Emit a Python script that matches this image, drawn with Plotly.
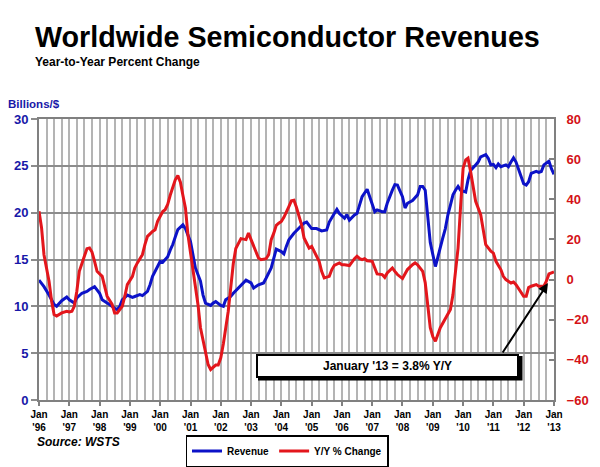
import plotly.graph_objects as go

# ---------------- data ----------------
rev_dates = ["1996-01","1996-03","1996-05","1996-07","1996-08","1996-10","1996-12",
             "1997-01","1997-03","1997-04","1997-06","1997-08","1997-09","1997-11",
             "1998-01","1998-02","1998-04","1998-05","1998-07","1998-08","1998-09","1998-10","1998-12",
             "1999-02","1999-03","1999-05","1999-06","1999-08","1999-09","1999-10","1999-12",
             "2000-01","2000-02","2000-04","2000-05","2000-06","2000-07","2000-08","2000-10","2000-11",
             "2001-01","2001-02","2001-03","2001-05","2001-06","2001-07","2001-09","2001-10","2001-11",
             "2002-01","2002-02","2002-03","2002-05","2002-06","2002-08","2002-10","2002-11",
             "2003-01","2003-02","2003-04","2003-06","2003-07","2003-09","2003-10","2003-11",
             "2004-01","2004-02","2004-03","2004-04","2004-06","2004-08","2004-10","2004-11",
             "2005-01","2005-03","2005-04","2005-05","2005-07","2005-08","2005-10","2005-11","2005-12",
             "2006-02","2006-03","2006-04","2006-06","2006-07","2006-08","2006-09","2006-11","2006-12",
             "2007-01","2007-02","2007-03","2007-05","2007-06","2007-07","2007-09","2007-10","2007-11",
             "2008-01","2008-02","2008-03","2008-05","2008-07","2008-08","2008-09","2008-10","2008-11","2008-12",
             "2009-02","2009-03","2009-05","2009-06","2009-07","2009-08","2009-09","2009-10","2009-11","2009-12",
             "2010-02","2010-03","2010-04","2010-06","2010-07","2010-08","2010-10","2010-11","2010-12",
             "2011-01","2011-02","2011-03","2011-04","2011-06","2011-07","2011-08","2011-09","2011-10","2011-12",
             "2012-01","2012-02","2012-03","2012-04","2012-06","2012-07","2012-08","2012-09","2012-11","2012-12",
             "2013-01"]
revenue = [12.8,12.1,11.2,10.2,10.0,10.6,11.0,
           10.7,10.35,10.9,11.4,11.6,11.8,12.1,
           11.4,10.7,10.35,10.2,9.8,9.65,10.0,10.7,11.2,
           10.95,11.05,11.25,11.15,11.6,12.3,13.2,14.25,
           14.8,14.7,15.3,16.0,16.6,17.4,18.2,18.7,18.3,
           16.9,15.5,14.1,12.7,11.2,10.35,10.1,10.35,10.5,
           10.1,10.0,10.7,11.05,11.4,11.95,12.5,12.8,
           12.5,11.95,12.3,12.5,13.0,14.1,15.1,16.1,
           15.85,15.6,16.4,17.1,17.8,18.3,18.9,19.0,
           18.3,18.3,18.2,18.05,18.15,19.0,19.9,20.35,19.9,
           19.4,19.8,19.2,19.75,19.9,20.8,21.7,22.5,21.7,
           21.0,20.1,20.3,20.1,20.1,21.0,22.4,23.0,22.95,
           21.7,20.5,21.0,21.3,21.9,22.8,22.8,22.4,19.75,16.8,
           14.25,15.3,17.3,18.3,19.75,20.8,21.9,22.4,22.8,22.4,
           22.2,23.5,24.5,25.1,25.4,25.96,26.2,25.8,25.1,
           25.15,24.8,25.2,24.9,25.1,24.9,25.4,25.85,25.4,24.0,
           23.1,22.95,23.3,24.2,24.4,24.3,24.4,25.1,25.5,24.7,
           24.1]

yoy_dates = ["1996-01","1996-02","1996-03","1996-05","1996-06","1996-07","1996-08","1996-10","1996-12",
             "1997-01","1997-02","1997-03","1997-04","1997-05","1997-07","1997-08","1997-09","1997-10","1997-11","1997-12",
             "1998-02","1998-03","1998-04","1998-06","1998-07","1998-08","1998-10","1998-11","1998-12",
             "1999-02","1999-03","1999-04","1999-06","1999-07","1999-08","1999-10","1999-11","1999-12",
             "2000-02","2000-03","2000-04","2000-05","2000-06","2000-07","2000-08","2000-09","2000-10","2000-11","2000-12",
             "2001-01","2001-02","2001-03","2001-04","2001-05","2001-07","2001-08","2001-09","2001-11","2001-12",
             "2002-01","2002-02","2002-03","2002-04","2002-05","2002-06","2002-07","2002-08","2002-09","2002-11","2002-12",
             "2003-01","2003-03","2003-04","2003-05","2003-07","2003-08","2003-09","2003-10","2003-11","2003-12",
             "2004-01","2004-02","2004-03","2004-04","2004-05","2004-06","2004-07","2004-08","2004-09","2004-10","2004-12",
             "2005-01","2005-02","2005-04","2005-05","2005-06","2005-08","2005-09","2005-10","2005-12",
             "2006-01","2006-02","2006-04","2006-05","2006-06","2006-07","2006-08","2006-09","2006-10","2006-11",
             "2007-01","2007-02","2007-03","2007-05","2007-06","2007-07","2007-09","2007-10","2007-11",
             "2008-01","2008-02","2008-03","2008-05","2008-06","2008-07","2008-09","2008-10","2008-11","2008-12",
             "2009-01","2009-02","2009-04","2009-06","2009-08","2009-09","2009-10","2009-11","2009-12",
             "2010-01","2010-02","2010-03","2010-04","2010-05","2010-06","2010-08","2010-09","2010-10","2010-12",
             "2011-01","2011-02","2011-04","2011-05","2011-06","2011-08","2011-09","2011-10","2011-12",
             "2012-01","2012-02","2012-03","2012-04","2012-06","2012-07","2012-09","2012-10","2012-11",
             "2013-01"]
yoy_change = [34,25.7,12.4,-0.8,-10.8,-17.4,-18.2,-16.6,-15.8,
              -16.1,-15.8,-13.3,-5.8,4.1,11.6,15.4,15.7,13.7,9.1,4.1,
              1.6,-3.3,-8.3,-12.4,-16.6,-16.6,-13.3,-8.3,-2.5,
              1.6,5.8,8.3,12.4,17.4,21.5,24.0,24.8,29.0,
              33.9,34.8,37.5,42,45.5,49.7,51.8,48.5,42,35.6,22.3,
              14,4,-3,-12.4,-24,-35.6,-42.3,-44.8,-42.6,-42.6,
              -39,-32,-25,-15.8,-4,8,15.5,18.2,20.4,19.9,23.2,
              19.9,14.1,10.7,9.9,10.4,12.4,19.9,23,27,28.1,
              29.0,31,34,36.4,39.2,39.5,36,32,27.3,20.7,15.7,
              16.5,14.1,9.1,4.1,0.8,1.6,5.0,7.1,8.3,
              7.4,7.4,7.0,8.8,10.4,11.6,10.5,9.9,10.4,9.4,
              9.1,5.8,2.8,2.5,1.1,3.3,5.8,4.1,2.5,
              0.5,2.5,5.0,7.4,8.3,7.4,4.1,-1.5,-14.1,-24,
              -28.5,-30.7,-24.0,-19.1,-14.9,-7.5,4.1,15.7,36,
              55.5,59.6,60.5,53.9,46.4,39.0,32.3,24.8,17.4,14.1,
              13.2,9.1,5.0,1.6,0.0,-1.7,-1.2,-2.5,-6,
              -8.3,-8.3,-4,-3.3,-2.5,-3.3,-3.3,-0.8,2.8,
              3.8]

year_ticks = ["1996-01","1997-01","1998-01","1999-01","2000-01","2001-01","2002-01","2003-01","2004-01",
              "2005-01","2006-01","2007-01","2008-01","2009-01","2010-01","2011-01","2012-01","2013-01"]
year_labels = ["Jan<br>'96","Jan<br>'97","Jan<br>'98","Jan<br>'99","Jan<br>'00","Jan<br>'01","Jan<br>'02",
               "Jan<br>'03","Jan<br>'04","Jan<br>'05","Jan<br>'06","Jan<br>'07","Jan<br>'08","Jan<br>'09",
               "Jan<br>'10","Jan<br>'11","Jan<br>'12","Jan<br>'13"]

# ---------------- layout helpers (pixel -> paper) ----------------
W, H = 600, 467
L, R, T, B = 39, 554, 119, 400
def px(x): return (x - L) / (R - L)
def py(y): return (B - y) / (B - T)

FONT = "Arial, 'Liberation Sans', sans-serif"
BLUE = "#0c12c8"
RED = "#e3161c"
BLUE_TXT = "#1818a8"
RED_TXT = "#d41216"

fig = go.Figure()
fig.add_trace(go.Scatter(x=rev_dates, y=revenue, name="Revenue", mode="lines",
                         line=dict(color=BLUE, width=3), yaxis="y"))
fig.add_trace(go.Scatter(x=yoy_dates, y=yoy_change, name="Y/Y % Change", mode="lines",
                         line=dict(color=RED, width=3), yaxis="y2"))

fig.update_layout(
    width=W, height=H,
    margin=dict(l=L, r=W - R, t=T, b=H - B, pad=0, autoexpand=False),
    paper_bgcolor="white", plot_bgcolor="white",
    font=dict(family=FONT, color="black"),
    showlegend=True,
    legend=dict(orientation="h", x=px(287), xanchor="center", y=py(435), yanchor="top",
                bordercolor="black", borderwidth=1.5, bgcolor="white",
                font=dict(size=10, weight="bold", family=FONT), itemwidth=30,
                tracegroupgap=0),
    xaxis=dict(type="date", range=["1996-01-01", "2013-01-01"], automargin=False,
               tickmode="array", tickvals=year_ticks, ticktext=year_labels,
               tickfont=dict(size=10, weight="bold", color="black"),
               ticks="outside", ticklen=4, tickcolor="#808080", tickwidth=1.5,
               showgrid=True, gridcolor="#b4b4b4", gridwidth=1.5,
               minor=dict(dtick="M3", tick0="1996-01-01", showgrid=True,
                          gridcolor="#b4b4b4", gridwidth=1.5),
               showline=True, linecolor="#808080", linewidth=2, mirror=True,
               zeroline=False),
    yaxis=dict(range=[0, 30], dtick=5, automargin=False,
               tickfont=dict(size=13, weight="bold", color=BLUE_TXT),
               ticks="outside", ticklen=6, tickcolor="#8c8c8c", tickwidth=2,
               showgrid=True, gridcolor="#8c8c8c", gridwidth=2,
               showline=True, linecolor="#808080", linewidth=2, zeroline=False),
    yaxis2=dict(range=[-60, 80], dtick=20, overlaying="y", side="right", automargin=False,
                tickfont=dict(size=13, weight="bold", color=RED_TXT),
                ticks="inside", ticklen=5, tickcolor="#808080", tickwidth=1.5,
                showgrid=False, showline=True, linecolor="#808080", linewidth=2,
                zeroline=False, ticklabelstandoff=8),
)

anns = []
anns.append(dict(text="<b>Worldwide Semiconductor Revenues</b>", x=px(33), y=py(37),
                 xref="paper", yref="paper", xanchor="left", yanchor="middle", showarrow=False,
                 font=dict(size=28.7, color="black", family=FONT)))
anns.append(dict(text="<b>Year-to-Year Percent Change</b>", x=px(33), y=py(62),
                 xref="paper", yref="paper", xanchor="left", yanchor="middle", showarrow=False,
                 font=dict(size=12, color="black", family=FONT)))
anns.append(dict(text="<b>Billions/$</b>", x=px(6), y=py(104),
                 xref="paper", yref="paper", xanchor="left", yanchor="middle", showarrow=False,
                 font=dict(size=11.5, color=BLUE_TXT, family=FONT)))
anns.append(dict(text="<b><i>Source: WSTS</i></b>", x=px(35), y=py(442),
                 xref="paper", yref="paper", xanchor="left", yanchor="middle", showarrow=False,
                 font=dict(size=12, color="black", family=FONT)))
# callout box
anns.append(dict(text="<b>January '13 = 3.8% Y/Y</b>", x=px(387.5), y=py(366),
                 xref="paper", yref="paper", xanchor="center", yanchor="middle", showarrow=False,
                 width=259, height=20, bgcolor="white", bordercolor="black", borderwidth=2,
                 borderpad=0, font=dict(size=12, color="black", family=FONT)))
# arrow
anns.append(dict(text="", x=px(548), y=py(283), xref="paper", yref="paper",
                 ax=501.7 - 548, ay=354 - 283, showarrow=True, arrowhead=2, arrowsize=1,
                 arrowwidth=2, arrowcolor="black"))
fig.update_layout(annotations=anns)

# shadow of the callout box
fig.add_shape(type="rect", xref="paper", yref="paper", x0=px(258), x1=px(522.5),
              y0=py(380.5), y1=py(356), fillcolor="black", line=dict(width=0), layer="above")

fig.write_html("out.html", config={"displayModeBar": False},
               post_script="document.body.style.margin='0';")
